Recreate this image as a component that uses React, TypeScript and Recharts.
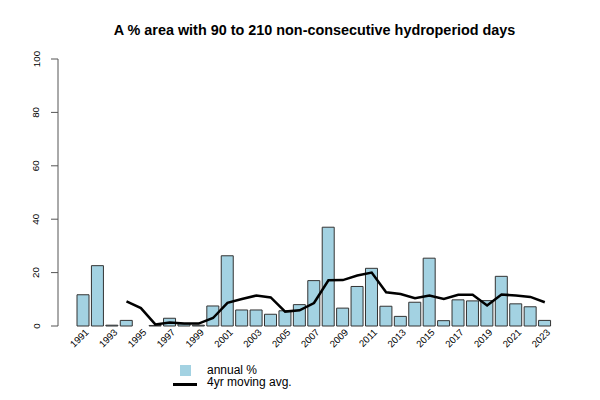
import { ComposedChart, Bar, Line, XAxis, YAxis } from 'recharts'

const years = [
  1991, 1992, 1993, 1994, 1995, 1996, 1997, 1998, 1999, 2000, 2001,
  2002, 2003, 2004, 2005, 2006, 2007, 2008, 2009, 2010, 2011, 2012,
  2013, 2014, 2015, 2016, 2017, 2018, 2019, 2020, 2021, 2022, 2023,
]

// annual % of area (bars)
const annualPct = [
  11.7, 22.6, 0.3, 2.1, 0, 0.2, 2.9, 0.8, 0.3, 7.5, 26.3,
  6.0, 6.0, 4.4, 5.7, 8.0, 17.0, 37.0, 6.7, 14.8, 21.6, 7.4,
  3.6, 8.9, 25.4, 2.0, 9.8, 9.4, 9.5, 18.6, 8.3, 7.2, 2.1,
]

// 4yr moving average (line), starts in 1994
const movingAvg = [
  null, null, null, 9.2, 6.7, 0.6, 1.3, 0.9, 0.9, 3.0, 8.7,
  10.1, 11.4, 10.7, 5.4, 5.9, 8.6, 17.1, 17.2, 18.9, 20.0, 12.6,
  12.0, 10.4, 11.4, 10.1, 11.7, 11.7, 7.7, 11.8, 11.4, 10.9, 8.9,
]

const yTicks = [0, 20, 40, 60, 80, 100]

const FONT = '"Liberation Sans", Arial, Helvetica, sans-serif'
const BAR_FILL = '#a3d2e2'

const data = years.map((y, i) => ({ year: y, annual: annualPct[i], avg: movingAvg[i] }))

function YTick(props: any) {
  const { y, payload } = props
  const bx = 39.5
  return (
    <text
      x={bx}
      y={y}
      transform={`rotate(-90, ${bx}, ${y})`}
      textAnchor="middle"
      fontSize={9.8}
      fontFamily={FONT}
      fill="#000"
    >
      {payload.value}
    </text>
  )
}

function XTick(props: any) {
  const { x, y, payload } = props
  const ax = x + 6
  const ay = y + 7
  return (
    <text
      x={ax}
      y={ay}
      transform={`rotate(-45, ${ax}, ${ay})`}
      textAnchor="end"
      fontSize={9.6}
      fontFamily={FONT}
      fill="#000"
    >
      {payload.value}
    </text>
  )
}

export default function App() {
  return (
    <div style={{ position: 'absolute', left: 0, top: 0, width: 600, height: 400, background: '#fff', fontFamily: FONT }}>
      <div
        style={{
          position: 'absolute', left: 0, top: 22, width: 629, textAlign: 'center',
          fontSize: 14.4, fontWeight: 'bold', color: '#000', lineHeight: '16px',
        }}
      >
        A % area with 90 to 210 non-consecutive hydroperiod days
      </div>
      <ComposedChart
        width={600}
        height={400}
        data={data}
        margin={{ top: 59, right: 48, bottom: 34, left: 0 }}
      >
        <XAxis
          dataKey="year"
          type="category"
          interval={1}
          height={40}
          padding={{ left: 18, right: 0 }}
          axisLine={false}
          tickLine={false}
          tickSize={0}
          tickMargin={0}
          tick={<XTick />}
        />
        <YAxis
          domain={[0, 100]}
          ticks={yTicks}
          width={58}
          tickSize={7}
          axisLine={{ stroke: '#555' }}
          tickLine={{ stroke: '#555' }}
          tick={<YTick />}
        />
        <Bar dataKey="annual" fill={BAR_FILL} stroke="#333" strokeWidth={1} barSize={12} isAnimationActive={false} />
        <Line
          type="linear"
          dataKey="avg"
          stroke="#000"
          strokeWidth={2.5}
          dot={false}
          activeDot={false}
          isAnimationActive={false}
        />
      </ComposedChart>
      <div style={{ position: 'absolute', left: 180, top: 365, width: 11, height: 11, background: BAR_FILL }} />
      <div style={{ position: 'absolute', left: 173, top: 383, width: 24, height: 2.5, background: '#000' }} />
      <div style={{ position: 'absolute', left: 207, top: 363.5, fontSize: 12, lineHeight: '13px', color: '#000', whiteSpace: 'nowrap' }}>
        annual %
      </div>
      <div style={{ position: 'absolute', left: 207, top: 376.3, fontSize: 12, lineHeight: '13px', color: '#000', whiteSpace: 'nowrap' }}>
        4yr moving avg.
      </div>
    </div>
  )
}
